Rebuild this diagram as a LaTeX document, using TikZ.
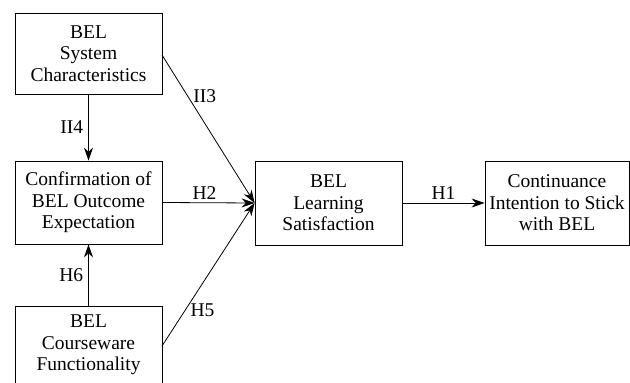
\documentclass[tikz,border=0pt]{standalone}
\usepackage{fontspec}
\setmainfont{Liberation Serif}
\usetikzlibrary{arrows.meta}
\begin{document}
\begin{tikzpicture}[x=1pt,y=-1pt,
  every node/.style={font=\fontsize{19.5}{21.5}\selectfont},
  box/.style={draw, line width=0.8pt, align=center, inner sep=0pt},
  conn/.style={line width=0.8pt, -{Stealth[length=13pt,width=9pt]}},
  lbl/.style={inner sep=1pt}]
\useasboundingbox (0,0) rectangle (630,383);
\clip (0,0) rectangle (630,383);
\node[box, minimum width=147pt, minimum height=81pt] (sys) at (88.5,53.5) {BEL\\System\\Characteristics};
\node[box, minimum width=147pt, minimum height=83pt] (conf) at (88.5,202.5) {Confirmation of\\BEL Outcome\\Expectation};
\node[box, minimum width=147pt, minimum height=90pt] (cw) at (88.5,351) {};
\node[align=center, inner sep=0pt] (cwt) at (88.5,345) {BEL\\Courseware\\Functionality};
\node[box, minimum width=147pt, minimum height=84pt] (sat) at (328.5,203) {BEL\\Learning\\Satisfaction};
\node[box, minimum width=144pt, minimum height=84pt] (ci) at (557,203) {Continuance\\Intention to Stick\\with BEL};
\coordinate (s3) at (162,55);
\coordinate (c5) at (162,346);
\draw[conn] (s3) -- (sat.west) node[lbl, pos=0.28, right=4pt] {II3};
\draw[conn] (sys.south) -- (conf.north) node[lbl, midway, left=4pt] {II4};
\draw[conn] (conf.east) -- (sat.west) node[lbl, midway, above=2pt, xshift=-4pt] {H2};
\draw[conn] (cw.north) -- (conf.south) node[lbl, midway, left=4pt] {H6};
\draw[conn] (c5) -- (sat.west) node[lbl, pos=0.25, right=4pt] {H5};
\draw[conn] (sat.east) -- (ci.west) node[lbl, midway, above=2pt] {H1};
\end{tikzpicture}
\end{document}
